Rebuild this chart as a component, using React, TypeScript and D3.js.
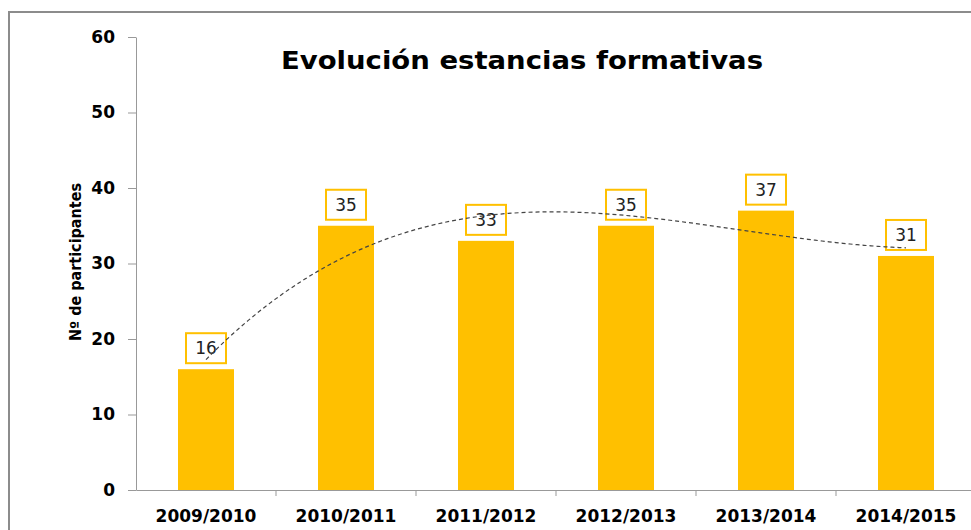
import React, { useEffect, useRef } from 'react';
import * as d3 from 'd3';

// Datos
const cursos = ['2009/2010', '2010/2011', '2011/2012', '2012/2013', '2013/2014', '2014/2015'];
const participantes = [16, 35, 33, 35, 37, 31];
const yTicks = [0, 10, 20, 30, 40, 50, 60];

// ajuste polinómico de grado 3 (línea de tendencia tipo Excel)
function polyFit(ys: number[], order: number) {
  const xs = ys.map((_, i) => i + 1);
  const m = order + 1;
  const A: number[][] = [];
  for (let r = 0; r < m; r++) {
    A.push([]);
    for (let c = 0; c < m; c++) A[r].push(d3.sum(xs, x => Math.pow(x, r + c)));
    A[r].push(d3.sum(xs, (x, i) => Math.pow(x, r) * ys[i]));
  }
  for (let i = 0; i < m; i++) {
    for (let k = i + 1; k < m; k++) {
      const f = A[k][i] / A[i][i];
      for (let j = i; j <= m; j++) A[k][j] -= f * A[i][j];
    }
  }
  const coef = new Array(m).fill(0);
  for (let i = m - 1; i >= 0; i--) {
    let s = A[i][m];
    for (let j = i + 1; j < m; j++) s -= A[i][j] * coef[j];
    coef[i] = s / A[i][i];
  }
  return (x: number) => coef.reduce((acc, c, i) => acc + c * Math.pow(x, i), 0);
}

function App() {
  const ref = useRef<SVGSVGElement>(null);

  useEffect(() => {
    const svg = d3.select(ref.current);
    svg.selectAll('*').remove();
    const font = 'DejaVu Sans, Verdana, sans-serif';
    const left = 136, top = 37, bottom = 490, step = 140;

    // marco del gráfico
    svg.append('rect')
      .attr('x', 9).attr('y', 12)
      .attr('width', 1000).attr('height', 600)
      .attr('fill', 'white')
      .attr('stroke', '#8c8c8c').attr('stroke-width', 2);

    const x = d3.scaleBand<string>()
      .domain(cursos)
      .range([left, left + step * cursos.length])
      .paddingInner(0.6)
      .paddingOuter(0.3);

    const y = d3.scaleLinear()
      .domain([0, 60])
      .range([bottom, top]);

    // eje y
    const gy = svg.append('g')
      .attr('transform', `translate(${left},0)`)
      .call(d3.axisLeft(y).tickValues(yTicks).tickSize(8).tickPadding(13).tickSizeOuter(0));
    gy.select('.domain').attr('stroke', '#999');
    gy.selectAll('.tick line').attr('stroke', '#999');
    gy.selectAll('.tick text')
      .attr('font-family', font).attr('font-size', 17).attr('font-weight', 'bold')
      .attr('fill', '#000');

    // eje x
    const gx = svg.append('g')
      .attr('transform', `translate(0,${bottom})`)
      .call(d3.axisBottom(x).tickSize(0).tickPadding(20).tickSizeOuter(0));
    gx.select('.domain').attr('stroke', '#999');
    gx.selectAll('.tick text')
      .attr('font-family', font).attr('font-size', 17).attr('font-weight', 'bold')
      .attr('fill', '#000');
    // marcas entre categorías
    gx.selectAll('.sep')
      .data(d3.range(1, cursos.length))
      .enter().append('line')
      .attr('x1', i => left + i * step).attr('x2', i => left + i * step)
      .attr('y1', 0).attr('y2', 6)
      .attr('stroke', '#999');

    // barras
    svg.selectAll('.bar')
      .data(participantes)
      .enter().append('rect')
      .attr('class', 'bar')
      .attr('x', (d, i) => x(cursos[i])!)
      .attr('y', d => y(d))
      .attr('width', x.bandwidth())
      .attr('height', d => bottom - y(d))
      .attr('fill', '#FFC000');

    // etiquetas de datos
    const bw = 40, bh = 30;
    const lab = svg.selectAll('.lab')
      .data(participantes)
      .enter().append('g')
      .attr('transform', (d, i) =>
        `translate(${x(cursos[i])! + x.bandwidth() / 2},${y(d) - 6 - bh / 2})`);
    lab.append('rect')
      .attr('x', -bw / 2).attr('y', -bh / 2)
      .attr('width', bw).attr('height', bh)
      .attr('fill', 'white')
      .attr('stroke', '#FFC000').attr('stroke-width', 2);
    lab.append('text')
      .attr('text-anchor', 'middle')
      .attr('dy', '0.36em')
      .attr('font-family', font).attr('font-size', 17)
      .attr('fill', '#222')
      .text(d => d);

    // línea de tendencia
    const f = polyFit(participantes, 3);
    const pts = d3.range(1, cursos.length + 0.001, 0.05);
    const cx = (t: number) => x(cursos[0])! + x.bandwidth() / 2 + (t - 1) * x.step();
    svg.append('path')
      .datum(pts)
      .attr('fill', 'none')
      .attr('stroke', '#444')
      .attr('stroke-width', 1.2)
      .attr('stroke-dasharray', '4,3')
      .attr('d', d3.line<number>().x(cx).y(t => y(f(t))));

    // título
    svg.append('text')
      .attr('x', 522).attr('y', 69)
      .attr('text-anchor', 'middle')
      .attr('font-family', font).attr('font-size', 24).attr('font-weight', 'bold')
      .attr('textLength', 482)
      .attr('lengthAdjust', 'spacingAndGlyphs')
      .text('Evolución estancias formativas');

    // título del eje y
    svg.append('text')
      .attr('transform', 'translate(81,262) rotate(-90)')
      .attr('text-anchor', 'middle')
      .attr('font-family', font).attr('font-size', 16).attr('font-weight', 'bold')
      .attr('textLength', 158)
      .attr('lengthAdjust', 'spacingAndGlyphs')
      .text('Nº de participantes');
  }, []);

  return (
    <svg ref={ref} width={971} height={530}
      style={{ position: 'absolute', left: 0, top: 0, display: 'block' }} />
  );
}

export default App;
